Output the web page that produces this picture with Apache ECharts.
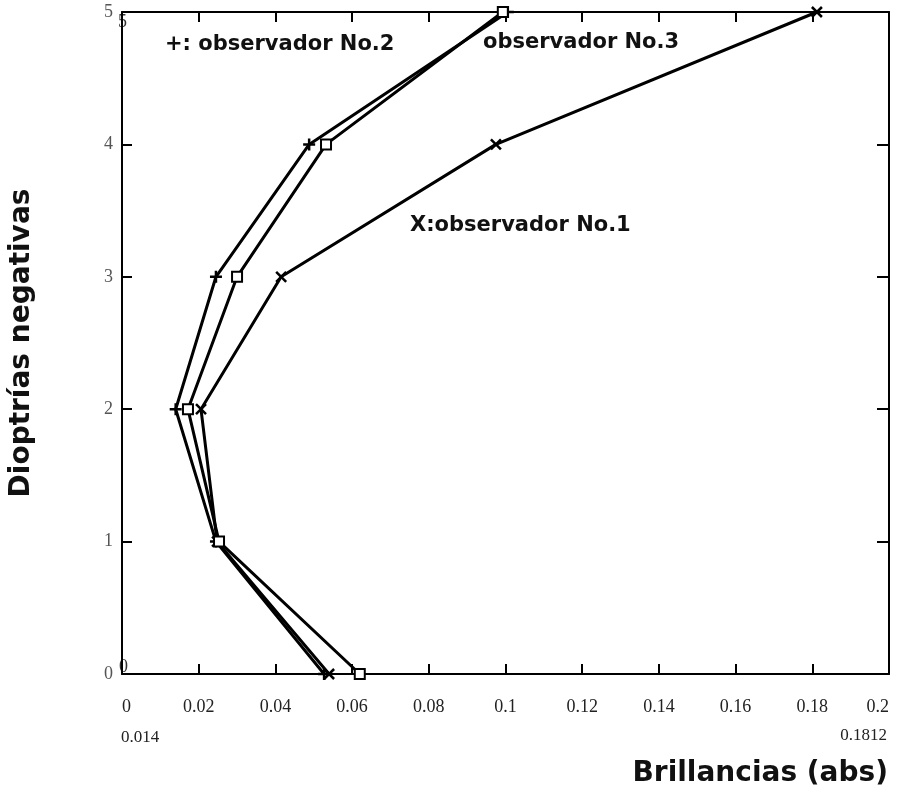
<!DOCTYPE html>
<html>
<head>
<meta charset="utf-8">
<script src="https://cdn.jsdelivr.net/npm/echarts@6/dist/echarts.min.js"></script>
<style>
html,body{margin:0;padding:0;background:#fff;}
#chart{width:897px;height:797px;}
</style>
</head>
<body>
<div id="chart"></div>
<script>
// Data
const dioptrias = [0, 1, 2, 3, 4, 5];
const obs1 = [0.054, 0.0248, 0.0206, 0.0415, 0.0975, 0.1812];   // X
const obs2 = [0.0527, 0.0245, 0.014, 0.0245, 0.0488, 0.1006];   // +
const obs3 = [0.062, 0.0253, 0.0172, 0.030, 0.0532, 0.0993];    // square
const xTickLabels = ['0', '0.02', '0.04', '0.06', '0.08', '0.1', '0.12', '0.14', '0.16', '0.18', '0.2'];
const yTickLabels = ['0', '1', '2', '3', '4', '5'];
const xMinLabel = '0.014';
const xMaxLabel = '0.1812';
const labels = {
  obs1: 'X:observador No.1',
  obs2: '+: observador No.2',
  obs3: 'observador No.3'
};

const pairs = arr => arr.map((v, i) => [v, dioptrias[i]]);

const chart = echarts.init(document.getElementById('chart'), null, {renderer: 'canvas'});

const axisLine = {show: true, onZero: false, lineStyle: {color: '#000', width: 2}};
const tickStyle = {color: '#000', width: 2};
const serif = 'Liberation Serif';
const sans = 'DejaVu Sans';

function mkSeries(name, arr, symbol, size) {
  return {
    name: name,
    type: 'line',
    data: pairs(arr),
    symbol: symbol,
    symbolSize: size,
    showSymbol: true,
    lineStyle: {color: '#000', width: 3},
    itemStyle: {color: '#000', borderColor: '#000', borderWidth: 2.5},
    emphasis: {disabled: true},
    animation: false
  };
}

const option = {
  backgroundColor: '#fff',
  animation: false,
  grid: {left: 122, right: 8, top: 12, bottom: 123, containLabel: false, outerBoundsMode: 'none'},
  xAxis: [
    {
      type: 'value', position: 'bottom', min: 0, max: 0.2, interval: 0.02,
      axisLine: axisLine,
      axisTick: {show: true, inside: true, length: 10, lineStyle: tickStyle},
      splitLine: {show: false},
      axisLabel: {
        color: '#222', fontFamily: serif, fontSize: 18, margin: 24,
        alignMinLabel: 'left', alignMaxLabel: 'right',
        formatter: (v) => xTickLabels[Math.round(v / 0.02)]
      }
    },
    {
      type: 'value', position: 'top', min: 0, max: 0.2, interval: 0.02,
      axisLine: axisLine,
      axisTick: {show: true, inside: true, length: 10, lineStyle: tickStyle},
      splitLine: {show: false},
      axisLabel: {show: false}
    }
  ],
  yAxis: [
    {
      type: 'value', position: 'left', min: 0, max: 5, interval: 1,
      axisLine: axisLine,
      axisTick: {show: true, inside: true, length: 10, lineStyle: tickStyle},
      splitLine: {show: false},
      axisLabel: {
        color: '#555', fontFamily: serif, fontSize: 18, margin: 9,
        formatter: (v) => yTickLabels[Math.round(v)]
      },
      name: 'Dioptrías negativas',
      nameLocation: 'middle',
      nameGap: 86,
      nameRotate: 90,
      nameTextStyle: {color: '#111', fontFamily: sans, fontWeight: 'bold', fontSize: 28}
    },
    {
      type: 'value', position: 'right', min: 0, max: 5, interval: 1,
      axisLine: axisLine,
      axisTick: {show: true, inside: true, length: 12, lineStyle: tickStyle},
      splitLine: {show: false},
      axisLabel: {show: false}
    }
  ],
  series: [
    mkSeries('obs1', obs1, 'path://M0,0L10,10M10,0L0,10', 10),
    mkSeries('obs2', obs2, 'path://M5,0L5,10M0,5L10,5', 12),
    mkSeries('obs3', obs3, 'emptyRect', 10)
  ],
  graphic: [
    {type: 'text', left: 165, top: 34, style: {text: labels.obs2, font: 'bold 21px "DejaVu Sans"', fill: '#111'}},
    {type: 'text', left: 483, top: 32, style: {text: labels.obs3, font: 'bold 21px "DejaVu Sans"', fill: '#111'}},
    {type: 'text', left: 410, top: 215, style: {text: labels.obs1, font: 'bold 21px "DejaVu Sans"', fill: '#111'}},
    {type: 'text', right: 9, top: 760, style: {text: 'Brillancias (abs)', font: 'bold 28px "DejaVu Sans"', fill: '#111'}},
    {type: 'text', left: 121, top: 729, style: {text: xMinLabel, font: '17px "Liberation Serif"', fill: '#222'}},
    {type: 'text', right: 10, top: 727, style: {text: xMaxLabel, font: '17px "Liberation Serif"', fill: '#222'}},
    {type: 'text', left: 118, top: 13, style: {text: yTickLabels[5], font: '18px "Liberation Serif"', fill: '#333'}},
    {type: 'text', left: 119, top: 658, style: {text: yTickLabels[0], font: '18px "Liberation Serif"', fill: '#333'}}
  ]
};

chart.setOption(option);
</script>
</body>
</html>
